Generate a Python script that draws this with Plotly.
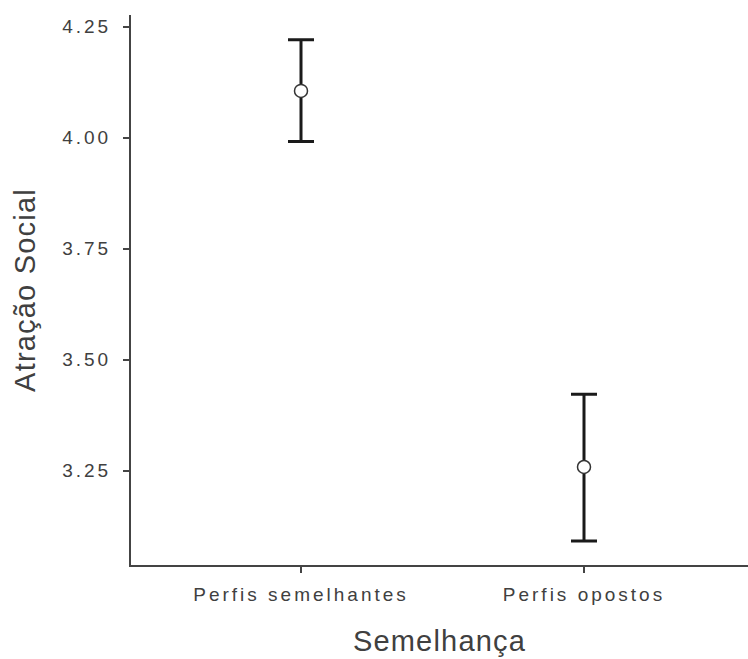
import plotly.graph_objects as go

categories = ["Perfis semelhantes", "Perfis opostos"]
means = [4.105, 3.258]
upper = [4.220, 3.422]
lower = [3.991, 3.091]
y_ticks = [3.25, 3.50, 3.75, 4.00, 4.25]
y_ticktext = ["3.25", "3.50", "3.75", "4.00", "4.25"]

err_plus = [u - m for u, m in zip(upper, means)]
err_minus = [m - l for m, l in zip(means, lower)]

fig = go.Figure()
fig.add_trace(go.Scatter(
    x=categories, y=means, mode="markers",
    marker=dict(size=13, color="white", line=dict(color="#333333", width=1.5)),
    error_y=dict(type="data", symmetric=False, array=err_plus, arrayminus=err_minus,
                 color="#1a1a1a", thickness=3, width=13),
    showlegend=False,
))

font_family = "Liberation Sans, Arial, sans-serif"
fig.update_layout(
    width=748, height=659,
    margin=dict(l=131, r=0, t=15, b=94),
    paper_bgcolor="white", plot_bgcolor="white",
    font=dict(family=font_family, color="#444444"),
)
fig.update_xaxes(
    type="category", range=[-0.6007, 1.5795], automargin=False,
    showline=True, linecolor="#444444", linewidth=2,
    ticks="outside", ticklen=6, tickwidth=2, tickcolor="#444444",
    tickfont=dict(size=19, color="#404040"),
    showgrid=False, zeroline=False,
    ticklabelstandoff=5,
    title=dict(text="Semelhança", font=dict(size=29, color="#404040"), standoff=27),
)
fig.update_yaxes(
    range=[3.0372, 4.2759], automargin=False,
    tickvals=y_ticks, ticktext=y_ticktext,
    showline=True, linecolor="#444444", linewidth=2,
    ticks="outside", ticklen=6, tickwidth=2, tickcolor="#444444",
    tickfont=dict(size=19, color="#404040"),
    showgrid=False, zeroline=False,
    ticklabelstandoff=8,
    title=dict(text="Atração Social", font=dict(size=29, color="#404040"), standoff=30),
)

post_js = """
document.documentElement.style.margin = '0';
document.body.style.margin = '0';
document.body.style.padding = '0';
document.body.style.overflow = 'hidden';
var gd = document.getElementById('{plot_id}');
function spaceText(){
  gd.querySelectorAll('.xtick text, .ytick text').forEach(function(t){ t.setAttribute('letter-spacing', '3px'); });
  gd.querySelectorAll('.xtitle, .ytitle').forEach(function(t){ t.setAttribute('letter-spacing', '1.2px'); });
}
spaceText();
if (gd.on) { gd.on('plotly_afterplot', spaceText); }
setTimeout(spaceText, 50);
"""

fig.write_html("out.html", post_script=post_js, config={"displayModeBar": False})
